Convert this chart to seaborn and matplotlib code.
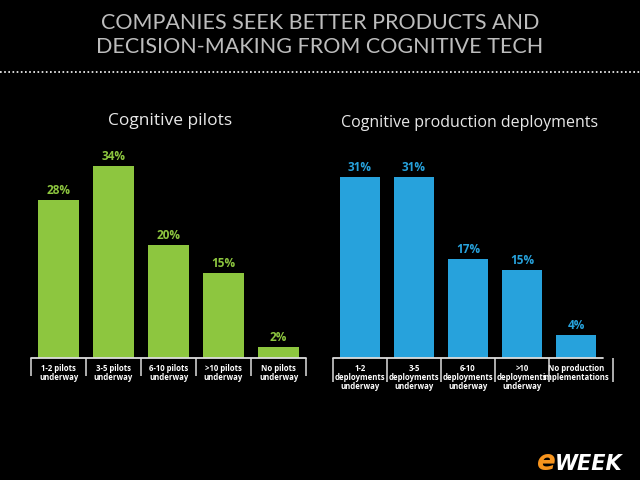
import matplotlib
matplotlib.use("Agg")
import matplotlib.pyplot as plt
import seaborn as sns
from matplotlib.lines import Line2D

# %% data
pilot_labels = ["1-2 pilots\nunderway", "3-5 pilots\nunderway", "6-10 pilots\nunderway",
                ">10 pilots\nunderway", "No pilots\nunderway"]
pilot_values = [28, 34, 20, 15, 2]

deploy_labels = ["1-2\ndeployments\nunderway", "3-5\ndeployments\nunderway",
                 "6-10\ndeployments\nunderway", ">10\ndeployments\nunderway",
                 "No production\nimplementations"]
deploy_values = [31, 31, 17, 15, 4]

green = "#8dc63f"
blue = "#27a2dc"

# %% figure setup
sns.set_style("dark")
plt.rcParams["font.family"] = ["Open Sans", "DejaVu Sans"]

W, H = 640, 480
fig = plt.figure(figsize=(6.4, 4.8), dpi=100, facecolor="black")


def px_axes(x0, x1, base, height):
    # axes placed in pixel coords of the 640x480 picture
    return fig.add_axes([x0 / W, (H - base) / H, (x1 - x0) / W, height / H])


def draw_panel(ax, labels, values, color, ymax, sep_drop, last_sep):
    ax.set_facecolor("black")
    sns.barplot(x=list(range(len(values))), y=values, color=color, saturation=1,
                width=0.73, edgecolor="none", linewidth=0, ax=ax)
    ax.bar_label(ax.containers[0], labels=[f"{v}%" for v in values], color=color,
                 fontsize=8.5, fontweight="bold", padding=2)
    ax.set_xlim(-0.5, len(values) - 0.5)
    ax.set_ylim(0, ymax)
    ax.set_xticks(range(len(values)))
    ax.set_xticklabels(labels, color="white", fontsize=5.6, fontweight="bold",
                       linespacing=1.0)
    ax.tick_params(axis="x", length=0, pad=4)
    ax.set_yticks([])
    ax.set_xlabel("")
    ax.set_ylabel("")
    ax.grid(False)
    for s in ax.spines.values():
        s.set_visible(False)
    ax.axhline(0, color="#dddddd", lw=1.3, clip_on=False)
    seps = [i - 0.5 for i in range(len(values))] + [last_sep]
    ax.vlines(seps, -sep_drop, 0, color="#dddddd", lw=1.1,
              transform=ax.get_xaxis_transform(), clip_on=False)


# left panel: cognitive pilots
ax1 = px_axes(31, 306, 358, 40 * 5.65)
draw_panel(ax1, pilot_labels, pilot_values, green, 40, 18 / (40 * 5.65), 4.5)

# right panel: production deployments
ax2 = px_axes(333, 603, 358, 40 * 5.85)
draw_panel(ax2, deploy_labels, deploy_values, blue, 40, 24 / (40 * 5.85), 4.68)

# %% titles and decorations
header = ["COMPANIES SEEK BETTER PRODUCTS AND", "DECISION-MAKING FROM COGNITIVE TECH"]
for i, line in enumerate(header):
    fig.text(0.5, 1 - (23 + 24 * i) / H, line, ha="center", va="center",
             color="#bdbdbd", fontsize=15.5, family=["Lato", "DejaVu Sans"])
fig.add_artist(Line2D([0, 1], [1 - 72 / H, 1 - 72 / H], transform=fig.transFigure,
                      color="white", lw=1.2, linestyle=(0, (1, 1.5))))

fig.text(170 / W, 1 - 121 / H, "Cognitive pilots", ha="center", va="center",
         color="#e8e8e8", fontsize=12.5)
fig.text(470 / W, 1 - 123 / H, "Cognitive production deployments", ha="center",
         va="center", color="#e8e8e8", fontsize=11.5)

# eWEEK logo
fig.text(537 / W, 1 - 470 / H, "e", color="#f7941d", fontsize=20, fontweight="bold",
         style="italic", ha="left", va="baseline", family="DejaVu Sans")
fig.text(555 / W, 1 - 470 / H, "WEEK", color="white", fontsize=15, fontweight="bold",
         style="italic", ha="left", va="baseline", family="DejaVu Sans")

fig.savefig("out.png", dpi=100, facecolor="black")
